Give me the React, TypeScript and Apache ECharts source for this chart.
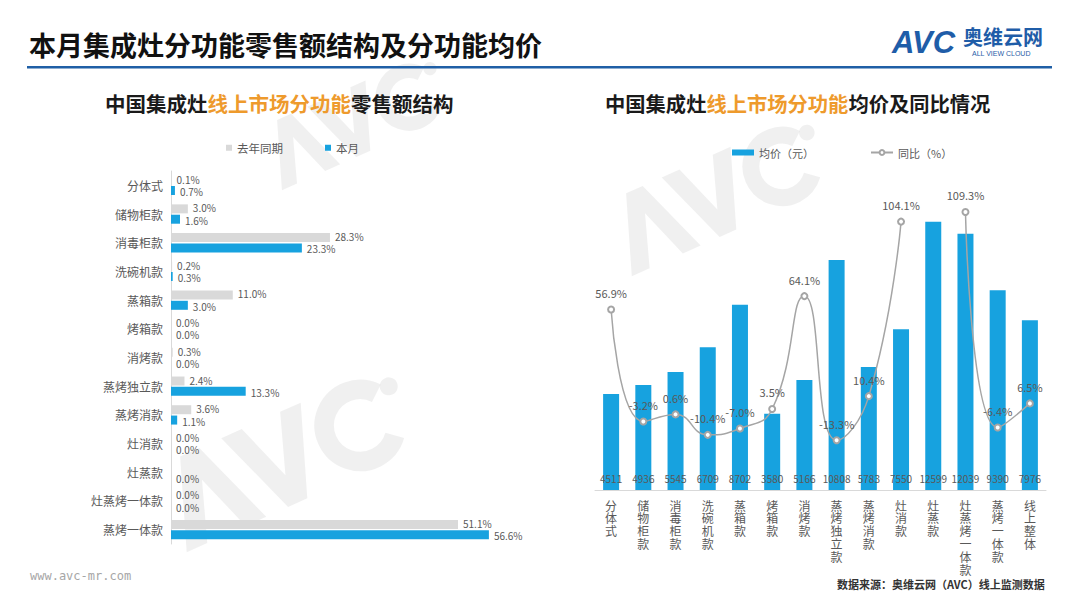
import React, { useEffect, useRef } from "react";
import * as echarts from "echarts";

const leftCategories = ["分体式", "储物柜款", "消毒柜款", "洗碗机款", "蒸箱款", "烤箱款", "消烤款", "蒸烤独立款", "蒸烤消款", "灶消款", "灶蒸款", "灶蒸烤一体款", "蒸烤一体款"];
const lastYearShare = [0.1, 3.0, 28.3, 0.2, 11.0, 0.0, 0.3, 2.4, 3.6, 0.0, null, 0.0, 51.1];
const thisMonthShare = [0.7, 1.6, 23.3, 0.3, 3.0, 0.0, 0.0, 13.3, 1.1, 0.0, 0.0, 0.0, 56.6];

const rightCategories = ["分体式", "储物柜款", "消毒柜款", "洗碗机款", "蒸箱款", "烤箱款", "消烤款", "蒸烤独立款", "蒸烤消款", "灶消款", "灶蒸款", "灶蒸烤一体款", "蒸烤一体款", "线上整体"];
const avgPrice = [4511, 4936, 5545, 6709, 8702, 3580, 5166, 10808, 5783, 7550, 12599, 12039, 9390, 7976];
const yoyGrowth = [56.9, -3.2, 0.6, -10.4, -7.0, 3.5, 64.1, -13.3, 10.4, 104.1, null, 109.3, -6.4, 6.5];

const FONT = "Noto Sans CJK SC";
const BLUE = "#17A2DF";
const GRAY = "#D9D9D9";
const LABEL = "#595959";
const ORANGE = "#EE9A2C";
const WM = "rgba(200,200,200,0.28)";

function avcMark(x: number, y: number, scale: number) {
  return {
    type: "group", x, y, rotation: 0.42, scaleX: scale, scaleY: scale, silent: true, z: -1,
    children: [
      { type: "polygon", shape: { points: [[0, 60], [22, 0], [36, 0], [58, 60], [43, 60], [29, 20], [15, 60]] }, style: { fill: WM } },
      { type: "polygon", shape: { points: [[52, 0], [67, 0], [81, 40], [95, 0], [110, 0], [88, 60], [74, 60]] }, style: { fill: WM } },
      { type: "arc", shape: { cx: 140, cy: 30, r: 24, startAngle: 0.7, endAngle: 5.6, clockwise: true }, style: { stroke: WM, lineWidth: 13, fill: "none" } },
      { type: "circle", shape: { cx: 168, cy: 14, r: 6 }, style: { fill: WM } },
    ],
  };
}

function titleText(x: number, a1: string, b: string, a2: string, size: number) {
  const a = { fontSize: size, fontWeight: "bold", fontFamily: FONT, fill: "#1a1a1a", color: "#1a1a1a" };
  const o = { fontSize: size, fontWeight: "bold", fontFamily: FONT, fill: ORANGE, color: ORANGE };
  return {
    type: "group", x, y: 93,
    children: [
      { type: "text", x: 0, y: 0, style: { text: `{a|${a1}}{b|${b}}{a|${a2}}`, rich: { a, b: o }, fill: "#1a1a1a" } },
    ],
  };
}

const CHAR_ROWS = Math.max(...rightCategories.map((c) => c.length));

export default function App() {
  const ref = useRef<HTMLDivElement>(null);
  useEffect(() => {
    if (!ref.current) return;
    const chart = echarts.init(ref.current, null, { renderer: "svg" });
    const pct = (p: any) => (p.value == null ? "" : Number(p.value).toFixed(1) + "%");
    const leftLabel = (dy: number) => ({
      show: true, position: "right", distance: 5, color: LABEL, fontSize: 10, lineHeight: 10,
      fontFamily: FONT, formatter: pct, offset: [0, dy],
    });
    // one category axis per character row so that labels read top-to-bottom
    const charAxes = Array.from({ length: CHAR_ROWS }, (_, k) => ({
      gridIndex: 1, type: "category", position: "bottom", data: rightCategories, offset: k * 12.8,
      axisLine: { show: k === 0, lineStyle: { color: GRAY } }, axisTick: { show: false },
      axisLabel: { interval: 0, color: LABEL, fontSize: 12, fontFamily: FONT, margin: 9,
        formatter: (v: string) => v.charAt(k) || "" },
    }));
    chart.setOption({
      animation: false,
      backgroundColor: "#ffffff",
      textStyle: { fontFamily: FONT },
      graphic: [
        avcMark(150, 470, 1.5),
        avcMark(600, 205, 1.3),
        avcMark(255, 130, 1.1),
        // header
        { type: "text", x: 29, y: 44, style: { text: "本月集成灶分功能零售额结构及分功能均价", fontSize: 27, fontWeight: "bold", fontFamily: FONT, fill: "#111111", verticalAlign: "middle" } },
        { type: "rect", shape: { x: 27, y: 66, width: 1025, height: 2.5 }, style: { fill: "#1F5FA6" } },
        { type: "text", x: 892, y: 42, style: { text: "AVC", fontSize: 31, fontWeight: "bold", fontStyle: "italic", fontFamily: "Liberation Sans", fill: "#1F5DA8", verticalAlign: "middle" } },
        { type: "text", x: 963, y: 36, style: { text: "奥维云网", fontSize: 20, fontWeight: "bold", fontFamily: FONT, fill: "#1F5DA8", verticalAlign: "middle" } },
        { type: "text", x: 972, y: 53, style: { text: "ALL VIEW CLOUD", fontSize: 7, fontFamily: "Liberation Sans", fill: "#1F5DA8", verticalAlign: "middle" } },
        // chart titles
        titleText(105, "中国集成灶", "线上市场分功能", "零售额结构", 20.5),
        titleText(605, "中国集成灶", "线上市场分功能", "均价及同比情况", 20.3),
        // footer
        { type: "text", x: 30, y: 576, style: { text: "www.avc-mr.com", fontSize: 12, fontFamily: "DejaVu Sans Mono", fill: "#A6A6A6", verticalAlign: "middle" } },
        { type: "text", x: 837, y: 584, style: { text: "数据来源：奥维云网（AVC）线上监测数据", fontSize: 11, fontWeight: "bold", fontFamily: FONT, fill: "#333333", verticalAlign: "middle" } },
      ],
      legend: [
        { left: 221, top: 137, icon: "rect", itemWidth: 6, itemHeight: 6, itemGap: 42,
          data: ["去年同期", "本月"], textStyle: { fontSize: 11.5, color: LABEL, fontFamily: FONT } },
        { left: 727, top: 142, itemWidth: 22, itemHeight: 6, itemGap: 56,
          data: [{ name: "均价（元）", icon: "rect" }, { name: "同比（%）" }], textStyle: { fontSize: 11, color: LABEL, fontFamily: FONT } },
      ],
      grid: [
        { left: 171, top: 171, width: 337, height: 373, containLabel: false },
        { left: 595, top: 192, width: 451, height: 298, containLabel: false },
      ],
      xAxis: [
        { gridIndex: 0, type: "value", min: 0, max: 60, show: false },
        ...charAxes,
      ],
      yAxis: [
        { gridIndex: 0, type: "category", data: leftCategories, inverse: true,
          axisLine: { show: true, lineStyle: { color: GRAY } }, axisTick: { show: false },
          axisLabel: { color: LABEL, fontSize: 12, fontFamily: FONT, margin: 8 } },
        { gridIndex: 1, type: "value", min: 0, max: 14000, show: false, splitLine: { show: false } },
        { gridIndex: 1, type: "value", min: -40, max: 120, show: false, splitLine: { show: false } },
      ],
      series: [
        { name: "去年同期", type: "bar", xAxisIndex: 0, yAxisIndex: 0, data: lastYearShare, barWidth: 9, barGap: "15%",
          itemStyle: { color: GRAY }, label: leftLabel(-1) },
        { name: "本月", type: "bar", xAxisIndex: 0, yAxisIndex: 0, data: thisMonthShare, barWidth: 9, barGap: "15%",
          itemStyle: { color: BLUE }, label: leftLabel(1) },
        { name: "均价（元）", type: "bar", xAxisIndex: 1, yAxisIndex: 1, data: avgPrice, barWidth: 16,
          itemStyle: { color: BLUE },
          label: { show: true, position: "insideBottom", distance: 7, color: LABEL, fontSize: 10, fontFamily: FONT } },
        { name: "同比（%）", type: "line", xAxisIndex: 1, yAxisIndex: 2, data: yoyGrowth, smooth: 0.5,
          symbol: "emptyCircle", symbolSize: 6, z: 5,
          lineStyle: { color: "#A5A5A5", width: 1.5 }, itemStyle: { color: "#A5A5A5", borderWidth: 1 },
          label: { show: true, position: "top", distance: 7, color: LABEL, fontSize: 11, fontFamily: FONT, formatter: pct } },
      ],
    });
    return () => chart.dispose();
  }, []);
  return <div ref={ref} style={{ position: "fixed", left: 0, top: 0, width: 1080, height: 608 }} />;
}
